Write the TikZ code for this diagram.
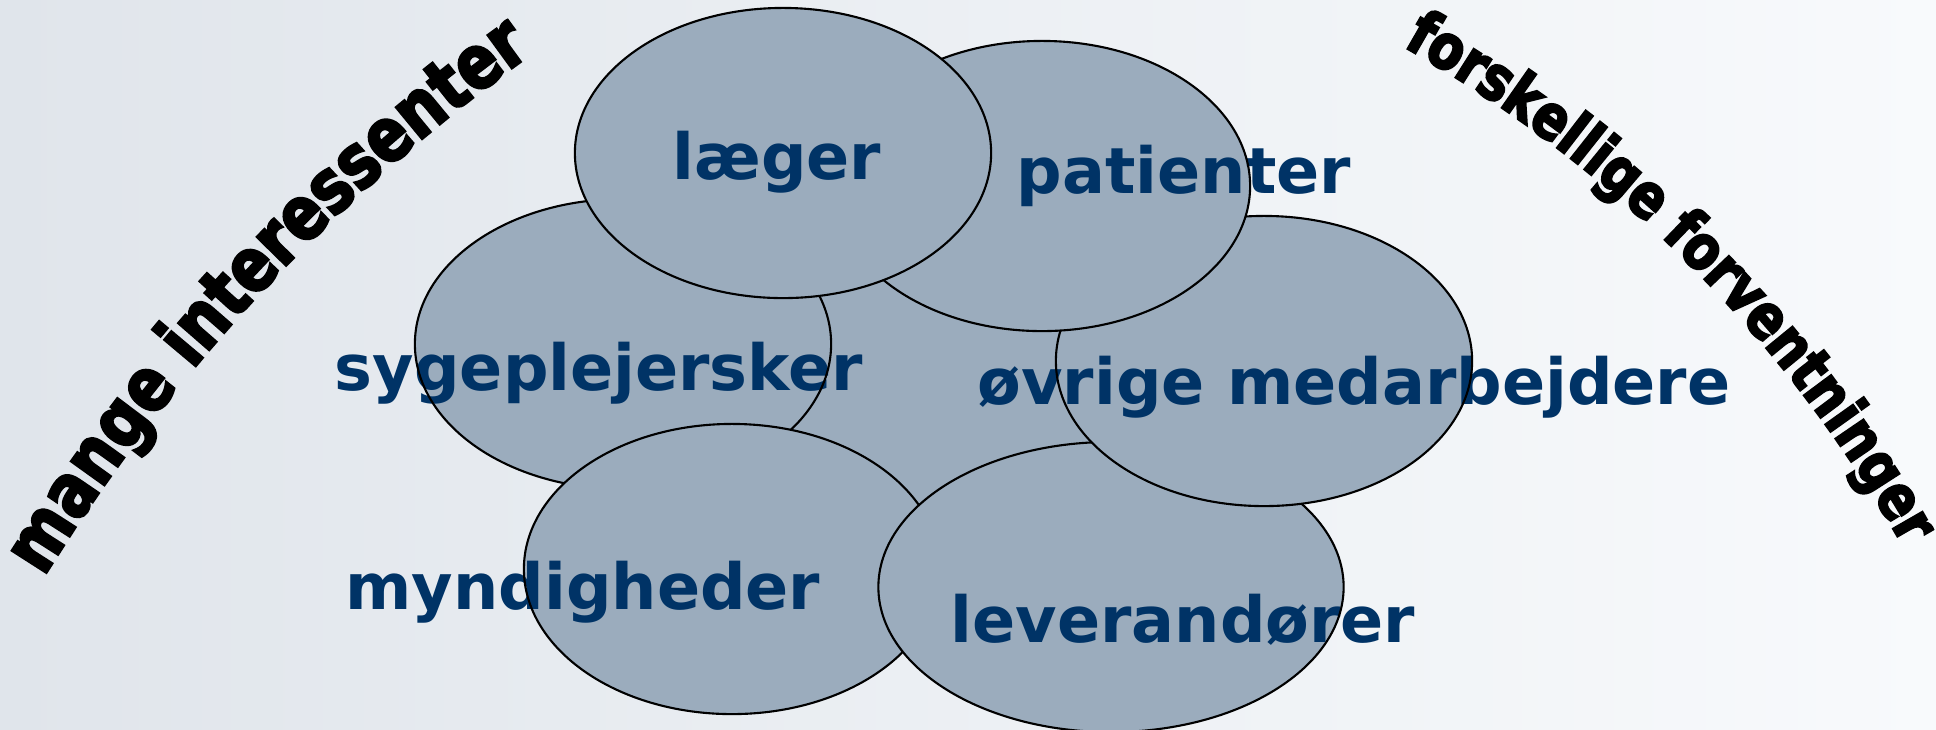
\documentclass[tikz,border=0pt]{standalone}
\usepackage{fontspec}
\usepackage{tikz}
\usetikzlibrary{shapes.geometric}
\usetikzlibrary{decorations.text}
\newfontfamily\tagfont{DejaVu Sans Bold}
\newfontfamily\archfont{DejaVu Sans Bold}[FakeBold=3.5,FakeStretch=0.82]
\newcommand\archbig{\archfont\fontsize{21.2}{24}\selectfont}
\newcommand\archsmall{\archfont\fontsize{17.6}{20}\selectfont}
\definecolor{bubblefill}{RGB}{155,172,189}
\definecolor{tagblue}{RGB}{0,51,102}
\definecolor{bgleft}{RGB}{224,229,235}
\definecolor{bgright}{RGB}{248,250,252}
\tikzset{bubble/.style={shape=ellipse, fill=bubblefill, inner sep=0pt,
    minimum width=4.16cm, minimum height=2.9cm},
  rim/.style={shape=ellipse, draw=black, line width=0.6pt, inner sep=0pt,
    minimum width=4.16cm, minimum height=2.9cm},
  tag/.style={text=tagblue, font=\tagfont\fontsize{18.1}{20}\selectfont,
    anchor=base, inner sep=0pt}}

\begin{document}
\begin{tikzpicture}[x=0.01cm, y=-0.01cm]
        \useasboundingbox (0,0) rectangle (1936,729);
        \shade[left color=bgleft, right color=bgright] (0,0) rectangle (1936,729);

            \node[bubble] (M) at (930,390) {};
            \node[rim] at (M) {};

            \node[bubble] (S) at (623,344) {};
            \node[tag] (s) at (599,390) {sygeplejersker};
            \node[rim] at (S) {};

            \node[bubble] (Y) at (732,569) {};
            \node[tag] (y) at (583,609) {myndigheder};
            \node[rim] at (Y) {};

            \node[bubble, minimum width=4.65cm] (V) at (1111,587) {};
            \node[tag] (v) at (1183,642) {leverandører};
            \node[rim, minimum width=4.65cm] at (V) {};

            \node[bubble] (O) at (1264,361) {};
            \node[tag] (o) at (1354,404) {øvrige medarbejdere};
            \node[rim] at (O) {};

            \node[bubble] (P) at (1042,186) {};
            \node[tag] (p) at (1184,193) {patienter};
            \node[rim] at (P) {};

            \node[bubble] (L) at (783,153) {};
            \node[tag] (l) at (777,179) {læger};
            \node[rim] at (L) {};

            \coordinate (lc) at (1590,1529.5);
            \coordinate (rc) at (759,1190.4);
            \path[decorate, decoration={text along path, text align=center,
                text={|\archbig|mange interessenter}}]
                ([shift={(209:1816)}]lc) arc[start angle=209, end angle=237, radius=1816];
            \path[decorate, decoration={text along path, text align=center,
                text={|\archsmall|forskellige forventninger}}]
                ([shift={(-63.5:1313)}]rc) arc[start angle=-63.5, end angle=-26.5, radius=1313];

        \end{tikzpicture}
\end{document}
